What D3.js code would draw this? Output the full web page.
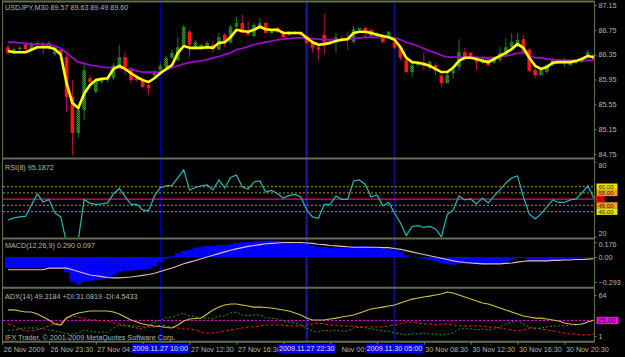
<!DOCTYPE html>
<html>
<head>
<meta charset="utf-8">
<script src="https://cdn.jsdelivr.net/npm/d3@7"></script>
<style>
  body { margin: 0; background: #000; }
  svg { display: block; }
  text { font-family: "Liberation Sans", Arial, sans-serif; font-size: 7.2px; fill: #b4b8a8; }
  .axis path { display: none; }
  .axis line { stroke: #6d7d5d; }
  .tag { font-size: 6px; }
</style>
</head>
<body>
<div id="chart"></div>
<script>
// ---- data (USDJPY M30) ----
var opens = [86.47,86.38,86.44,86.51,86.44,86.51,86.51,86.46,86.36,86.43,
  86.31,85.67,85.09,85.46,85.97,85.75,85.91,85.94,85.97,86.15,
  86.31,86.10,85.99,85.94,85.86,86.02,86.10,86.15,86.30,86.26,
  86.51,86.72,86.47,86.44,86.46,86.51,86.43,86.67,86.54,86.80,
  86.86,86.72,86.65,86.81,86.86,86.70,86.78,86.72,86.67,86.70,
  86.70,86.65,86.55,86.47,86.67,86.55,86.55,86.62,86.60,86.55,
  86.75,86.78,86.75,86.65,86.63,86.63,86.55,86.47,86.26,86.07,
  86.18,86.22,86.14,86.18,86.01,85.89,86.05,86.15,86.39,86.38,
  86.28,86.22,86.28,86.22,86.26,86.35,86.47,86.51,86.60,86.43,
  86.10,86.02,86.07,86.18,86.26,86.22,86.18,86.22,86.23,86.33,
  86.35];
var highs = [86.51,86.47,86.49,86.54,86.55,86.57,86.55,86.57,86.49,86.46,
  86.35,85.94,85.51,86.22,86.02,85.97,85.97,85.99,86.22,86.51,
  86.39,86.15,86.02,85.97,85.88,86.10,86.22,86.33,86.43,86.63,
  86.83,86.75,86.59,86.52,86.57,86.57,86.70,86.70,86.83,86.96,
  86.99,86.88,86.86,86.94,86.88,86.76,86.80,86.73,86.73,86.73,
  86.72,86.67,86.62,86.51,87.01,86.59,86.70,86.65,86.72,86.81,
  86.78,86.80,86.76,86.72,86.67,86.73,86.59,86.51,86.30,86.22,
  86.25,86.38,86.26,86.22,86.07,86.05,86.15,86.60,86.46,86.39,
  86.31,86.33,86.30,86.33,86.47,86.62,86.70,86.70,86.67,86.46,
  86.14,86.12,86.20,86.30,86.28,86.30,86.25,86.26,86.31,86.43,
  86.36];
var lows = [86.35,86.36,86.41,86.41,86.43,86.49,86.35,86.43,86.33,86.33,
  85.43,84.73,85.01,85.30,85.81,85.73,85.88,85.91,85.94,86.14,
  86.02,85.89,85.91,85.81,85.70,85.99,86.07,86.12,86.28,86.25,
  86.47,86.31,86.46,86.43,86.43,86.38,86.43,86.47,86.54,86.78,
  86.70,86.65,86.63,86.80,86.68,86.68,86.70,86.62,86.65,86.68,
  86.65,86.52,86.38,86.26,86.35,86.51,86.38,86.55,86.43,86.54,
  86.73,86.63,86.63,86.63,86.54,86.62,86.44,86.26,86.05,85.99,
  86.17,86.10,86.10,86.02,85.83,85.89,85.97,86.10,86.26,86.30,
  86.10,86.20,86.17,86.20,86.23,86.31,86.46,86.47,86.38,86.07,
  85.97,86.01,86.05,86.17,86.20,86.15,86.17,86.20,86.22,86.31,
  86.26];
var closes = [86.38,86.44,86.46,86.44,86.52,86.54,86.49,86.54,86.46,86.36,
  85.67,85.09,85.46,86.10,85.91,85.94,85.94,85.96,86.18,86.31,
  86.15,85.94,85.94,85.83,85.81,86.07,86.17,86.30,86.38,86.47,
  86.80,86.51,86.55,86.51,86.54,86.44,86.63,86.55,86.80,86.86,
  86.70,86.67,86.83,86.86,86.70,86.75,86.72,86.63,86.72,86.72,
  86.67,86.54,86.46,86.43,86.54,86.54,86.63,86.59,86.59,86.76,
  86.78,86.70,86.65,86.70,86.55,86.72,86.46,86.30,86.07,86.18,
  86.23,86.17,86.23,86.09,85.89,86.02,86.10,86.39,86.30,86.31,
  86.23,86.31,86.18,86.30,86.38,86.47,86.55,86.59,86.39,86.09,
  86.02,86.10,86.18,86.26,86.22,86.23,86.23,86.25,86.30,86.39,
  86.28];
var maFast = [86.41,86.39,86.39,86.39,86.43,86.47,86.47,86.47,86.44,86.35,
  85.89,85.57,85.49,85.72,85.86,85.94,85.96,85.97,86.12,86.17,
  86.12,86.05,85.99,85.94,85.91,85.97,86.05,86.12,86.18,86.38,
  86.49,86.46,86.46,86.46,86.47,86.46,86.54,86.55,86.63,86.75,
  86.73,86.72,86.75,86.80,86.76,86.75,86.75,86.70,86.70,86.70,
  86.70,86.62,86.55,86.51,86.52,86.54,86.57,86.59,86.60,86.70,
  86.72,86.72,86.70,86.67,86.65,86.63,86.59,86.47,86.30,86.23,
  86.22,86.20,86.17,86.12,86.07,86.07,86.14,86.25,86.30,86.30,
  86.28,86.25,86.23,86.28,86.33,86.38,86.44,86.52,86.46,86.30,
  86.17,86.12,86.15,86.22,86.23,86.23,86.23,86.25,86.28,86.33,
  86.31];
var maSlow = [86.55,86.55,86.54,86.53,86.52,86.52,86.52,86.51,86.49,86.45,
  86.38,86.30,86.23,86.21,86.18,86.17,86.15,86.14,86.14,86.13,
  86.12,86.12,86.09,86.07,86.07,86.07,86.07,86.10,86.14,86.17,
  86.20,86.22,86.24,86.25,86.27,86.30,86.32,86.35,86.38,86.43,
  86.45,86.48,86.51,86.53,86.55,86.57,86.59,86.60,86.61,86.62,
  86.62,86.62,86.61,86.60,86.59,86.59,86.59,86.59,86.60,86.61,
  86.62,86.63,86.63,86.63,86.63,86.63,86.62,86.59,86.55,86.52,
  86.49,86.45,86.41,86.38,86.34,86.31,86.31,86.31,86.31,86.31,
  86.31,86.30,86.30,86.30,86.31,86.33,86.35,86.37,86.38,86.34,
  86.30,86.30,86.28,86.27,86.26,86.26,86.26,86.25,86.25,86.26,
  86.26];
var rsi = [33.4,35.0,35.8,36.2,45.4,54.2,47.8,49.8,39.0,35.8,
  15.0,9.4,17.4,49.8,46.7,45.9,46.2,47.0,54.2,58.6,
  52.0,45.8,45.9,41.5,40.6,52.6,59.3,60.6,61.0,67.0,
  73.4,57.4,59.4,60.6,61.4,57.4,65.4,59.0,67.4,69.4,
  59.8,58.2,63.8,64.6,55.8,57.0,54.6,50.7,53.0,53.8,
  51.8,41.4,35.8,34.7,45.9,45.9,52.6,49.9,49.9,64.6,
  65.4,61.8,51.8,53.4,44.6,47.4,39.0,31.0,21.0,28.2,
  28.8,27.4,28.2,26.2,19.8,37.8,41.4,52.6,49.4,50.2,
  46.2,51.0,47.0,52.6,57.4,63.0,67.0,68.6,51.8,38.2,
  34.2,38.2,43.8,49.4,47.4,47.4,49.4,50.2,55.0,60.6,
  51.0];
var macdMain = [-0.13,-0.13,-0.13,-0.13,-0.13,-0.13,-0.12,-0.12,-0.12,-0.12,
  -0.18,-0.29,-0.32,-0.29,-0.28,-0.27,-0.26,-0.25,-0.21,-0.18,
  -0.16,-0.16,-0.15,-0.15,-0.14,-0.11,-0.06,-0.02,0.01,0.04,
  0.07,0.08,0.11,0.12,0.13,0.13,0.14,0.14,0.15,0.165,
  0.175,0.175,0.18,0.19,0.19,0.19,0.19,0.18,0.18,0.175,
  0.17,0.15,0.13,0.12,0.12,0.11,0.11,0.11,0.11,0.12,
  0.13,0.13,0.12,0.12,0.10,0.10,0.08,0.06,0.02,0.0,
  -0.01,-0.02,-0.035,-0.05,-0.07,-0.08,-0.09,-0.08,-0.08,-0.08,
  -0.08,-0.08,-0.08,-0.08,-0.07,-0.06,-0.035,-0.01,-0.01,-0.035,
  -0.05,-0.05,-0.045,-0.04,-0.035,-0.03,-0.025,-0.02,-0.015,-0.01,
  -0.01];
var macdSignal = [-0.15,-0.15,-0.15,-0.15,-0.15,-0.15,-0.15,-0.13,-0.13,-0.13,
  -0.13,-0.15,-0.17,-0.19,-0.21,-0.22,-0.23,-0.24,-0.245,-0.245,
  -0.24,-0.235,-0.225,-0.215,-0.205,-0.19,-0.17,-0.15,-0.13,-0.105,
  -0.08,-0.06,-0.04,-0.02,0.0,0.02,0.04,0.06,0.08,0.095,
  0.11,0.125,0.135,0.145,0.155,0.16,0.165,0.17,0.17,0.17,
  0.17,0.165,0.16,0.15,0.145,0.135,0.13,0.125,0.12,0.115,
  0.115,0.115,0.115,0.115,0.11,0.11,0.10,0.09,0.075,0.06,
  0.045,0.03,0.015,0.0,-0.015,-0.03,-0.045,-0.055,-0.065,-0.07,
  -0.075,-0.08,-0.08,-0.08,-0.08,-0.075,-0.07,-0.06,-0.05,-0.045,
  -0.045,-0.045,-0.045,-0.04,-0.04,-0.035,-0.035,-0.03,-0.03,-0.025,
  -0.02];
var adx = [41,41,39.4,37.9,37.9,34.8,30.2,25.6,19.4,17.9,
  28.6,33.3,36.3,37.9,39.4,39.4,39.4,39.4,37.9,34.8,
  30.2,25.6,22.5,19.4,17.9,16.4,15.6,14.1,13.3,17.9,
  24,27.1,27.9,28.6,34.8,41,45.5,48.6,50.2,50.2,
  48.6,47.1,45.5,45.5,44.8,44,42.5,41,39.4,36.3,
  33.3,28.6,25.6,25.6,25.6,27.1,28.6,30.2,31.7,33.3,
  36.3,39.4,42.5,44,45.5,47.1,48.6,51.7,54.8,57.8,
  59.4,60.9,62.4,64,65.5,68.6,67.1,64,60.9,57.8,
  54.8,51.7,50.2,47.1,44,41,37.9,34.8,31.7,30.2,
  28.6,28.6,27.1,25.6,24,21,19.4,18.7,19.4,22.5,
  25.6];
var plusDI = [10.2,10.2,11.8,13.3,13.3,13.3,11.8,10.2,8.7,7.1,
  4.1,4.1,5.6,10.2,8.7,7.1,7.1,7.1,13.3,17.9,
  16.4,14.8,13.3,11.8,16.4,22.5,25.6,28.6,30.2,33.3,
  36.3,31.7,30.2,28.6,28.6,27.1,31.7,31.7,36.3,37.9,
  33.3,31.7,33.3,33.3,28.6,28.6,27.1,24,22.5,21,
  17.9,13.3,8.7,7.1,10.2,8.7,10.2,8.7,8.7,13.3,
  14.8,13.3,11.8,10.2,8.7,8.7,5.6,4.1,2.5,4.1,
  4.1,5.6,4.1,4.1,2.5,4.1,5.6,11.8,13.3,11.8,
  10.2,11.8,10.2,11.8,14.8,19.4,22.5,24,19.4,14.8,
  11.8,13.3,14.8,16.4,16.4,16.4,17.9,17.9,19.4,22.5,
  24];
var minusDI = [19.4,16.4,11.8,8.7,8.7,10.2,13.3,16.4,19.4,22.5,
  28.6,31.7,30.2,27.1,25.6,25.6,24,24,21,19.4,
  17.9,16.4,16.4,14.8,14.8,14.8,17.9,16.4,14.8,13.3,
  11.8,11.8,10.2,7.1,5.6,5.6,7.1,8.7,10.2,11.8,
  13.3,14.8,14.8,16.4,17.9,17.9,17.9,17.9,16.4,16.4,
  16.4,17.9,19.4,21,19.4,17.9,17.9,16.4,16.4,16.4,
  14.8,14.8,14.8,14.8,14.8,16.4,17.9,19.4,22.5,22.5,
  21,19.4,19.4,17.9,19.4,19.4,17.9,16.4,16.4,16.4,
  16.4,16.4,14.8,14.8,13.3,11.8,10.2,8.7,10.2,13.3,
  13.3,11.8,10.2,8.7,7.1,5.6,4.1,4.1,2.5,2.5,
  4.1];

var priceTicks = [87.15, 86.75, 86.35, 85.95, 85.55, 85.15, 84.75];
var rsiTicks = [80, 20];
var rsiLevels = [60, 55, 45, 40];
var rsiMid = 50;
var macdTicks = [0.176, 0, -0.293];
var adxTicks = [64, 1];
var adxLevel = 25;
var timeIdx = [-1, 7, 15, 23, 31, 39, 47, 55, 63, 71, 79, 87, 95];
var timeText = ["26 Nov 2009", "26 Nov 23:30", "27 Nov 04:30", "27 Nov 08:30", "27 Nov 12:30",
  "27 Nov 16:30", "27 Nov 20:30", "30 Nov 00:30", "30 Nov 04:30", "30 Nov 08:30",
  "30 Nov 12:30", "30 Nov 16:30", "30 Nov 20:30"];
var vlineIdx = [26, 51, 66];
var vlineText = ["2009.11.27 10:00", "2009.11.27 22:30", "2009.11.30 05:00"];

// ---- layout ----
var width = 625, height = 357;
var axisX = 594.5;
var frame = "#5e6e4e";

var svg = d3.select("#chart").append("svg")
    .attr("width", width)
    .attr("height", height)
    .style("background", "#000");

var defs = svg.append("defs");
var pat = defs.append("pattern").attr("id", "upFill")
    .attr("width", 2).attr("height", 2).attr("patternUnits", "userSpaceOnUse");
pat.append("rect").attr("width", 2).attr("height", 2).attr("fill", "#0b560b");
pat.append("rect").attr("width", 1).attr("height", 1).attr("fill", "#3c9c3c");
pat.append("rect").attr("x", 1).attr("y", 1).attr("width", 1).attr("height", 1).attr("fill", "#3c9c3c");

var panels = {
    main: [3, 157.5],
    rsi: [160, 237.5],
    macd: [239.5, 286.5],
    adx: [289, 341]
};
Object.keys(panels).forEach(function (k) {
    defs.append("clipPath").attr("id", "clip-" + k)
        .append("rect")
        .attr("x", 3).attr("y", panels[k][0])
        .attr("width", axisX - 3).attr("height", panels[k][1] - panels[k][0]);
});

var x = d3.scaleLinear().domain([0, opens.length - 1]).range([8, 593.7]);
var yPrice = d3.scaleLinear().domain([84.75, 87.15]).range([154, 5]);
var yRsi = d3.scaleLinear().domain([20, 80]).range([236.7, 161.7]);
var yMacd = d3.scaleLinear().domain([-0.293, 0.176]).range([282, 242]);
var yAdx = d3.scaleLinear().domain([1, 64]).range([336, 295]);

// vertical line objects (behind everything)
var vl = svg.append("g");
vl.selectAll("line").data(vlineIdx).enter().append("line")
    .attr("x1", function (d) { return x(d); })
    .attr("x2", function (d) { return x(d); })
    .attr("y1", 2).attr("y2", 341)
    .attr("stroke", function (d, i) { return i === 0 ? "#0000ff" : (i === 1 ? "#1a1aa8" : "#0c0c8c"); })
    .attr("stroke-width", function (d, i) { return i === 0 ? 1 : 2; })
    .attr("stroke-dasharray", function (d, i) { return i === 0 ? "1,1" : null; });

// ---- main panel ----
var gMain = svg.append("g").attr("clip-path", "url(#clip-main)");
var bw = 3.6;
gMain.selectAll("line.wick").data(opens).enter().append("line")
    .attr("class", "wick")
    .attr("x1", function (d, i) { return x(i); })
    .attr("x2", function (d, i) { return x(i); })
    .attr("y1", function (d, i) { return yPrice(highs[i]); })
    .attr("y2", function (d, i) { return yPrice(lows[i]); })
    .attr("stroke", function (d, i) { return closes[i] >= opens[i] ? "#1c7a1c" : "#b8124c"; })
    .attr("stroke-width", 1);
gMain.selectAll("rect.body").data(opens).enter().append("rect")
    .attr("class", "body")
    .attr("x", function (d, i) { return x(i) - bw / 2; })
    .attr("width", bw)
    .attr("y", function (d, i) { return yPrice(Math.max(opens[i], closes[i])); })
    .attr("height", function (d, i) {
        return Math.max(1, Math.abs(yPrice(opens[i]) - yPrice(closes[i])));
    })
    .attr("fill", function (d, i) { return closes[i] >= opens[i] ? "url(#upFill)" : "#ff1414"; });

var lineMain = function (arr) {
    return d3.line()
        .x(function (d, i) { return x(i); })
        .y(function (d) { return yPrice(d); })(arr);
};
gMain.append("path").attr("d", lineMain(maSlow))
    .attr("fill", "none").attr("stroke", "#9a08c8").attr("stroke-width", 1.8);
gMain.append("path").attr("d", lineMain(maFast))
    .attr("fill", "none").attr("stroke", "#ffff00").attr("stroke-width", 2.6)
    .attr("stroke-linejoin", "round");

// ---- RSI ----
var gRsi = svg.append("g").attr("clip-path", "url(#clip-rsi)");
gRsi.selectAll("line.lvl").data(rsiLevels).enter().append("line")
    .attr("x1", 3).attr("x2", axisX)
    .attr("y1", function (d) { return yRsi(d); })
    .attr("y2", function (d) { return yRsi(d); })
    .attr("stroke", "#8a7a26").attr("stroke-width", 1.2).attr("stroke-dasharray", "2,2");
gRsi.append("line")
    .attr("x1", 3).attr("x2", axisX)
    .attr("y1", yRsi(rsiMid)).attr("y2", yRsi(rsiMid))
    .attr("stroke", "#dc106c").attr("stroke-width", 1.3);
gRsi.append("path")
    .attr("d", d3.line().x(function (d, i) { return x(i); }).y(function (d) { return yRsi(d); })(rsi))
    .attr("fill", "none").attr("stroke", "#25b8b8").attr("stroke-width", 1.2);

// ---- MACD ----
var gMacd = svg.append("g").attr("clip-path", "url(#clip-macd)");
var step = x(1) - x(0);
gMacd.selectAll("rect").data(macdMain).enter().append("rect")
    .attr("x", function (d, i) { return x(i) - step / 2; })
    .attr("width", step + 0.3)
    .attr("y", function (d) { return Math.min(yMacd(0), yMacd(d)); })
    .attr("height", function (d) { return Math.abs(yMacd(d) - yMacd(0)); })
    .attr("fill", "#0000ff");
gMacd.append("path")
    .attr("d", d3.line().x(function (d, i) { return x(i); }).y(function (d) { return yMacd(d); })(macdSignal))
    .attr("fill", "none").attr("stroke", "#e4bcbc").attr("stroke-width", 1.1);

// ---- ADX ----
var gAdx = svg.append("g").attr("clip-path", "url(#clip-adx)");
gAdx.append("line")
    .attr("x1", 3).attr("x2", axisX)
    .attr("y1", yAdx(adxLevel)).attr("y2", yAdx(adxLevel))
    .attr("stroke", "#ff00ff").attr("stroke-width", 1).attr("stroke-dasharray", "2,2");
var lineAdx = d3.line().x(function (d, i) { return x(i); }).y(function (d) { return yAdx(d); });
gAdx.append("path").attr("d", lineAdx(minusDI))
    .attr("fill", "none").attr("stroke", "#e0202c").attr("stroke-width", 1).attr("stroke-dasharray", "3,2");
gAdx.append("path").attr("d", lineAdx(plusDI))
    .attr("fill", "none").attr("stroke", "#1aa01a").attr("stroke-width", 1).attr("stroke-dasharray", "2,2");
gAdx.append("path").attr("d", lineAdx(adx))
    .attr("fill", "none").attr("stroke", "#d2c040").attr("stroke-width", 1.2);

// ---- frames ----
var fr = svg.append("g");
[1.5, 158.5, 238.5, 287.8, 341.8].forEach(function (yy) {
    fr.append("line").attr("x1", 2).attr("x2", axisX).attr("y1", yy).attr("y2", yy)
        .attr("stroke", frame).attr("stroke-width", 2);
});
fr.append("line").attr("x1", 2.5).attr("x2", 2.5).attr("y1", 1).attr("y2", 342)
    .attr("stroke", frame).attr("stroke-width", 1);
fr.append("line").attr("x1", axisX).attr("x2", axisX).attr("y1", 1).attr("y2", 342)
    .attr("stroke", frame).attr("stroke-width", 1);

// ---- right axes ----
function rightAxis(scale, ticks, fmt) {
    return svg.append("g").attr("class", "axis")
        .attr("transform", "translate(" + axisX + ",0)")
        .call(d3.axisRight(scale).tickValues(ticks).tickSize(2).tickPadding(2).tickFormat(fmt));
}
rightAxis(yPrice, priceTicks, d3.format(".2f"));
var ra = rightAxis(yRsi, rsiTicks, d3.format("d"));
ra.selectAll("text").attr("dy", function (d) { return d === 80 ? "0.75em" : "-0.15em"; });
var ma = rightAxis(yMacd, macdTicks, function (d) { return d === 0 ? "0.00" : d3.format(".3f")(d); });
ma.selectAll("text").attr("dy", function (d) { return d > 0 ? "0.6em" : "0.32em"; });
rightAxis(yAdx, adxTicks, d3.format("d"));
svg.selectAll(".axis text").style("fill", "#b4b8a8").attr("font-size", "7.2px");

// RSI / ADX level tags
var tagFill = { 60: "#e6e600", 55: "#f0a018", 45: "#f0a018", 40: "#e6e600" };
var tags = svg.append("g");
rsiLevels.forEach(function (v) {
    tags.append("rect").attr("x", axisX + 2).attr("y", yRsi(v) - 3.2)
        .attr("width", 21).attr("height", 6.4).attr("fill", tagFill[v]);
    tags.append("text").attr("class", "tag").attr("x", axisX + 4).attr("y", yRsi(v) + 2.1)
        .style("fill", "#202000").text(d3.format(".2f")(v));
});
tags.append("rect").attr("x", axisX + 1).attr("y", yRsi(rsiMid) - 3.2)
    .attr("width", 9).attr("height", 6.4).attr("fill", "#ff0000");
tags.append("text").attr("class", "tag").attr("x", axisX + 2).attr("y", yRsi(rsiMid) + 2.1)
    .style("fill", "#300000").text(rsiMid);
tags.append("rect").attr("x", axisX + 2).attr("y", yAdx(adxLevel) - 3.6)
    .attr("width", 22).attr("height", 7.4).attr("fill", "#ff00ff");
tags.append("text").attr("x", axisX + 3).attr("y", yAdx(adxLevel) + 2.6)
    .style("fill", "#300030").text(d3.format(".2f")(adxLevel));

// ---- time axis ----
var ta = svg.append("g").attr("class", "axis")
    .attr("transform", "translate(0,341.8)")
    .call(d3.axisBottom(x).tickValues(timeIdx).tickSize(3).tickPadding(1.6)
        .tickFormat(function (d, i) { return timeText[i]; }));
ta.selectAll("text").attr("text-anchor", "start").attr("x", 1)
    .style("fill", "#b4b8a8").attr("font-size", "7.2px");

// the blue tags of the vertical lines sit on top of the time labels:
// keep only the part of each label that is not covered
var boxW = 57;
var boxes = vlineIdx.map(function (b) { return [x(b) - boxW / 2, x(b) + boxW / 2]; });
ta.selectAll(".tick text").each(function (d) {
    var node = this, str = node.textContent, n = str.length;
    var x0 = x(d) + 1;
    var a = 0, b = n;
    function sub(k, m) { return m > k ? node.getSubStringLength(k, m - k) : 0; }
    var guard = 0;
    while (a < b && guard++ < 50) {
        var s = x0 + sub(0, a), e = x0 + sub(0, b), hit = false;
        for (var j = 0; j < boxes.length; j++) {
            if (s < boxes[j][1] && e > boxes[j][0] + 2.5) {
                if (s >= boxes[j][0] - 0.5) a++; else b--;
                hit = true;
                break;
            }
        }
        if (!hit) break;
    }
    var shift = sub(0, a);
    var keep = str.slice(a, b).replace(/^\s+/, "");
    shift += sub(a, a + (str.slice(a, b).length - keep.length));
    if (!keep.length) d3.select(node).remove();
    else d3.select(node).attr("x", 1 + shift).text(keep);
});

var vt = svg.append("g");
vlineIdx.forEach(function (b, i) {
    vt.append("rect").attr("x", x(b) - boxW / 2).attr("y", 344).attr("width", boxW).attr("height", 9)
        .attr("fill", "#0000f0");
    vt.append("text").attr("x", x(b)).attr("y", 351).attr("text-anchor", "middle")
        .style("fill", "#e8e8f0").text(vlineText[i]);
});

// ---- titles ----
var titles = [
    ["USDJPY,M30  89.57 89.63 89.49 89.60", 10],
    ["RSI(8) 95.1872", 170],
    ["MACD(12,26,9) 0.290 0.097", 248],
    ["ADX(14) 49.3184 +DI:31.0819 -DI:4.5433", 298.5],
    ["IFX Trader, \u00a9 2001-2009 MetaQuotes Software Corp.", 339.5]
];
svg.append("g").selectAll("text").data(titles).enter().append("text")
    .attr("x", 5).attr("y", function (d) { return d[1]; })
    .text(function (d) { return d[0]; });
</script>
</body>
</html>
